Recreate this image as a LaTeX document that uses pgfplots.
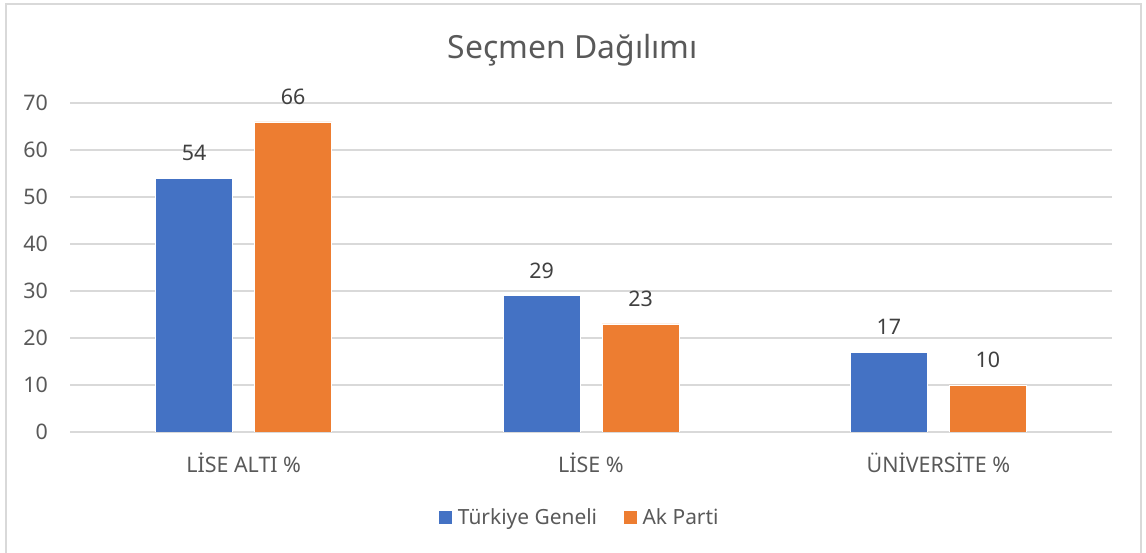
\documentclass[border=0pt]{standalone}
\usepackage{pgfplots}
\pgfplotsset{compat=1.18}
\usepackage{fontspec}
\setmainfont{Noto Sans}
\definecolor{tgblue}{HTML}{4472C4}
\definecolor{akorange}{HTML}{ED7D31}
\definecolor{txt}{HTML}{595959}
\definecolor{lbl}{HTML}{404040}
\definecolor{gridc}{HTML}{D9D9D9}
\begin{document}
\begin{tikzpicture}[x=1bp,y=1bp]
\useasboundingbox (0,0) rectangle (1146,553);
\draw[gridc, line width=1.5bp] (6,0) -- (6,549) -- (1141,549) -- (1141,0);
\node[txt, font=\fontsize{32}{38}\selectfont] at (573,503) {Seçmen Dağılımı};
\begin{axis}[
  at={(70bp,121bp)}, anchor=south west,
  scale only axis, width=1042bp, height=329bp,
  xmin=-0.5, xmax=2.5, ymin=0, ymax=70,
  ybar=22bp, bar width=77bp,
  axis line style={draw=none},
  major tick length=0pt,
  ytick={0,10,...,70},
  xtick={0,1,2},
  xticklabels={LİSE ALTI \%, LİSE \%, ÜNİVERSİTE \%},
  ymajorgrids, grid style={gridc, line width=1.2bp},
  /pgf/number format/assume math mode=true,
  tick label style={font=\fontsize{21.5}{26}\selectfont, text=txt},
  yticklabel style={anchor=east, inner sep=0pt, xshift=-22bp},
  xticklabel style={anchor=north, inner sep=0pt, yshift=-21bp},
  nodes near coords,
  every node near coord/.append style={font=\fontsize{21.5}{26}\selectfont, text=lbl, anchor=south, inner sep=0pt, yshift=17bp, /pgf/number format/assume math mode=true},
  legend style={at={(0.488,-0.258)}, anchor=center, draw=none, fill=none,
    font=\fontsize{21}{25}\selectfont, text=txt,
    legend columns=2,
    /tikz/every odd column/.append style={column sep=5bp},
    /tikz/every even column/.append style={column sep=26bp},
    nodes={inner sep=0pt}},
  legend image code/.code={\fill[#1] (0bp,-7bp) rectangle (14bp,7bp);},
]
\addplot[fill=tgblue, draw=white, line width=0.5bp] coordinates {(0,54) (1,29) (2,17)};
\addplot[fill=akorange, draw=white, line width=0.5bp] coordinates {(0,66) (1,23) (2,10)};
\legend{Türkiye Geneli, Ak Parti}
\end{axis}
\end{tikzpicture}
\end{document}
